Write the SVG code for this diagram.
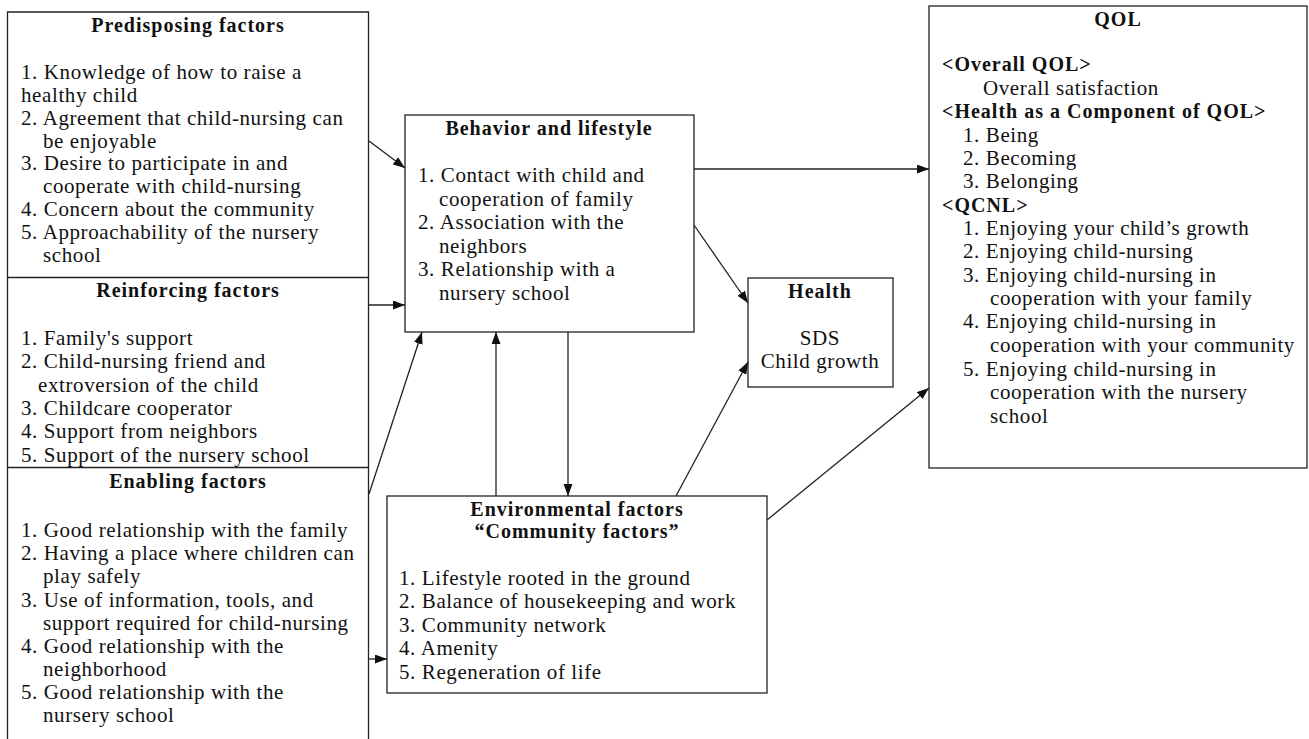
<svg xmlns="http://www.w3.org/2000/svg" width="1309" height="739" viewBox="0 0 1309 739">
<style>
.box{fill:#fff;stroke:#222;stroke-width:1.3}
.ln{fill:none;stroke:#222;stroke-width:1.3}
text{font-family:"Liberation Serif","Times New Roman",serif;font-size:21px;letter-spacing:0.6px;fill:#111}
.b{font-weight:bold;font-size:20px;letter-spacing:1px}
.c{text-anchor:middle}
</style>
<defs>
<marker id="ah" markerUnits="userSpaceOnUse" markerWidth="13" markerHeight="10" refX="12" refY="4.5" orient="auto">
<path d="M0,0 L12,4.5 L0,9 z" fill="#111"/>
</marker>
</defs>
<g id="left-factors">
<path class="ln" d="M7.5,745 V12 H368.5 V745 M7.5,277.5 H368.5 M7.5,467.5 H368.5"/>
</g>
<g id="predisposing">
<text class="b c" x="188" y="32">Predisposing factors</text>
<text x="21" y="79">1. Knowledge of how to raise a</text>
<text x="21" y="102">healthy child</text>
<text x="21" y="125">2. Agreement that child-nursing can</text>
<text x="43" y="148">be enjoyable</text>
<text x="21" y="170">3. Desire to participate in and</text>
<text x="43" y="193">cooperate with child-nursing</text>
<text x="21" y="216">4. Concern about the community</text>
<text x="21" y="239">5. Approachability of the nursery</text>
<text x="43" y="262">school</text>
</g>
<g id="reinforcing">
<text class="b c" x="188" y="297">Reinforcing factors</text>
<text x="21" y="345">1. Family's support</text>
<text x="21" y="368">2. Child-nursing friend and</text>
<text x="38" y="392">extroversion of the child</text>
<text x="21" y="415">3. Childcare cooperator</text>
<text x="21" y="438">4. Support from neighbors</text>
<text x="21" y="462">5. Support of the nursery school</text>
</g>
<g id="enabling">
<text class="b c" x="188" y="488">Enabling factors</text>
<text x="21" y="537">1. Good relationship with the family</text>
<text x="21" y="560">2. Having a place where children can</text>
<text x="43" y="583">play safely</text>
<text x="21" y="607">3. Use of information, tools, and</text>
<text x="43" y="630">support required for child-nursing</text>
<text x="21" y="653">4. Good relationship with the</text>
<text x="43" y="676">neighborhood</text>
<text x="21" y="699">5. Good relationship with the</text>
<text x="43" y="722">nursery school</text>
</g>
<g id="behavior">
<rect class="box" x="405" y="115" width="289" height="217"/>
<text class="b c" x="549" y="135">Behavior and lifestyle</text>
<text x="418" y="182">1. Contact with child and</text>
<text x="439" y="205.5">cooperation of family</text>
<text x="418" y="229">2. Association with the</text>
<text x="439" y="252.5">neighbors</text>
<text x="418" y="276">3. Relationship with a</text>
<text x="439" y="299.5">nursery school</text>
</g>
<g id="health">
<rect class="box" x="748" y="278" width="145" height="109"/>
<text class="b c" x="820" y="298">Health</text>
<text class="c" x="820" y="345">SDS</text>
<text class="c" x="820" y="368">Child growth</text>
</g>
<g id="environmental">
<rect class="box" x="387" y="496" width="380" height="197"/>
<text class="b c" x="577" y="516">Environmental factors</text>
<text class="b c" x="577" y="538">“Community factors”</text>
<text x="399" y="585">1. Lifestyle rooted in the ground</text>
<text x="399" y="608">2. Balance of housekeeping and work</text>
<text x="399" y="632">3. Community network</text>
<text x="399" y="655">4. Amenity</text>
<text x="399" y="679">5. Regeneration of life</text>
</g>
<g id="qol">
<rect class="box" x="929" y="6" width="378" height="462"/>
<text class="b c" x="1118" y="26">QOL</text>
<text class="b" x="942" y="71">&lt;Overall QOL&gt;</text>
<text x="983" y="95">Overall satisfaction</text>
<text class="b" x="942" y="118">&lt;Health as a Component of QOL&gt;</text>
<text x="963" y="142">1. Being</text>
<text x="963" y="165">2. Becoming</text>
<text x="963" y="188">3. Belonging</text>
<text class="b" x="942" y="212">&lt;QCNL&gt;</text>
<text x="963" y="235">1. Enjoying your child’s growth</text>
<text x="963" y="258">2. Enjoying child-nursing</text>
<text x="963" y="282">3. Enjoying child-nursing in</text>
<text x="990" y="305">cooperation with your family</text>
<text x="963" y="328">4. Enjoying child-nursing in</text>
<text x="990" y="352">cooperation with your community</text>
<text x="963" y="376">5. Enjoying child-nursing in</text>
<text x="990" y="399">cooperation with the nursery</text>
<text x="990" y="423">school</text>
</g>
<g id="connectors" class="ln" marker-end="url(#ah)">
<line x1="369" y1="141" x2="405" y2="168"/>
<line x1="369" y1="305" x2="405" y2="305"/>
<line x1="369" y1="494" x2="422" y2="332"/>
<line x1="369" y1="659" x2="387" y2="659"/>
<line x1="496" y1="496" x2="496" y2="332"/>
<line x1="568" y1="332" x2="568" y2="496"/>
<line x1="694" y1="169" x2="929" y2="169"/>
<line x1="694" y1="225" x2="748" y2="303"/>
<line x1="676" y1="496" x2="748" y2="362"/>
<line x1="767" y1="520" x2="929" y2="388"/>
</g>
</svg>
